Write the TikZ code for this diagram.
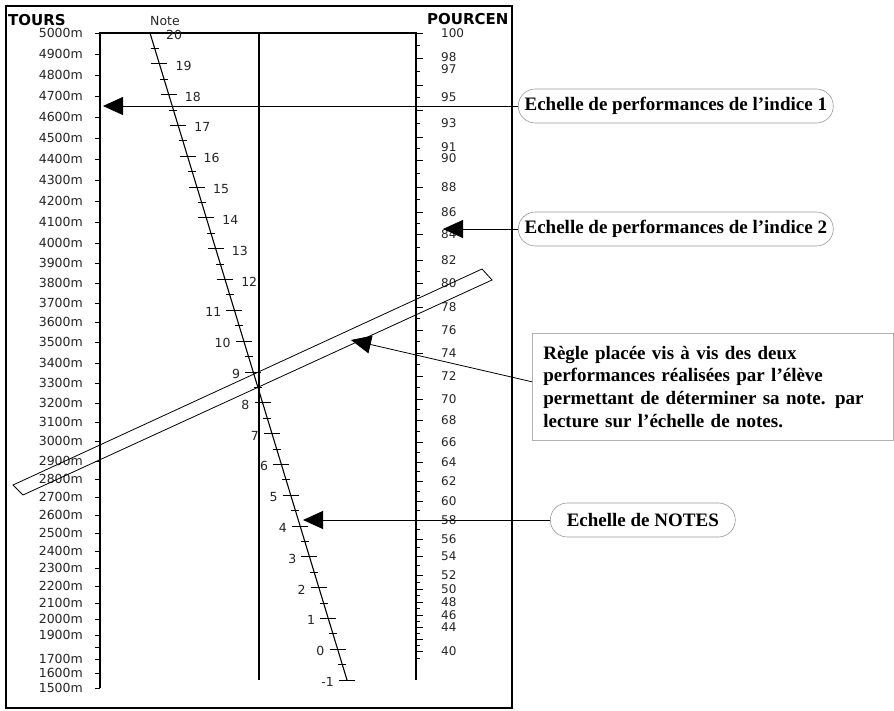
\documentclass[tikz,border=0pt]{standalone}
\usepackage{fontspec}
\usepackage{tikz}
\usetikzlibrary{arrows.meta,positioning}
\setmainfont{Liberation Serif}
\newfontfamily\scalefont{DejaVu Sans}

\begin{document}
\begin{tikzpicture}[x=1pt,y=-1pt,
		axis/.style={line width=1.6pt},
		tick/.style={line width=0.8pt},
		lbl/.style={font=\scalefont\fontsize{12.5}{12.5}\selectfont, text=black!85, inner sep=0pt},
		head/.style={font=\scalefont\bfseries\fontsize{15}{15}\selectfont, inner sep=0pt},
		pointer/.style={draw=black, line width=0.8pt, -{Triangle[length=20pt,width=18pt]}},
		pill/.style={draw=black!40, line width=0.6pt, rounded corners=17pt, minimum height=34pt, inner sep=0pt, font=\bfseries\fontsize{19}{22.7}\selectfont},
		infobox/.style={draw=black!30, line width=0.6pt, inner xsep=11pt, inner ysep=0pt, minimum height=107pt, align=left, font=\bfseries\fontsize{19}{22.7}\selectfont}]
		\useasboundingbox (0,0) rectangle (894,711);
		\fill[white] (0,0) rectangle (894,711);

		% Frame of the nomogram.
		\draw[line width=1.5pt] (6,6) rectangle (512,708);

		% Scale bodies.
		\draw[axis] (100,688) -- (100,33) -- (416,33) -- (416,680);
		\draw[axis] (259,33) -- (259,680);

		% Headers.
		\node[head, anchor=west] (tours) at (8,20) {TOURS};
		\node[lbl, anchor=center] (note) at (165,21) {Note};
		\node[head, anchor=west] (pourcent) at (427,19) {POURCEN};

		% TOURS scale: value/y position.
		\foreach \v/\y in {5000/33, 4900/54, 4800/75, 4700/96, 4600/117, 4500/138, 4400/159, 4300/180, 4200/201, 4100/222,
			4000/243, 3900/263, 3800/283, 3700/303, 3600/322, 3500/342, 3400/363, 3300/383, 3200/403, 3100/422,
			3000/441, 2900/461, 2800/479, 2700/497, 2600/515, 2500/533, 2400/551, 2300/568, 2200/586, 2100/603,
			2000/619, 1900/635, 1700/659, 1600/673, 1500/688}{
			\draw[tick] (95,\y) -- (100,\y);
			\node[lbl, anchor=east] (t\v) at (83,\y) {\v m};
		}
		\draw[tick] (95,647) -- (100,647); % 1800, no label

		% POURCENTAGE scale: ticks every 2 with a short one between.
		\foreach \ya/\yb in {33/58, 58/85, 85/110, 110/137, 137/160, 160/187, 187/212, 212/234, 234/260, 260/283,
			283/307, 307/330, 330/353, 353/376, 376/399, 399/420, 420/442, 442/462, 462/481, 481/501,
			501/520, 520/539, 539/556, 556/575, 575/589, 589/602, 602/615, 615/627, 627/639, 639/651}{
			\draw[tick] (416,\ya) -- (423,\ya);
			\draw[tick] (416,{(\ya+\yb)/2}) -- (420,{(\ya+\yb)/2});
		}
		\draw[tick] (416,651) -- (423,651);
		\draw[tick] (416,658) -- (420,658);
		\foreach \v/\y in {100/33, 98/57, 97/69, 95/97, 93/123, 91/147, 90/158, 88/187, 86/212, 84/234,
			82/260, 80/283, 78/307, 76/330, 74/353, 72/376, 70/399, 68/420, 66/442, 64/462,
			62/481, 60/501, 58/520, 56/539, 54/556, 52/575, 50/589, 48/602, 46/615, 44/627, 40/651}{
			\node[lbl, font=\scalefont\fontsize{12}{12}\selectfont, anchor=west] (p\v) at (441,\y) {\v};
		}

		% NOTE scale (slanted).
		\coordinate (ntop) at (150,33);
		\coordinate (nbot) at (347,680);
		\draw[line width=1.1pt] (ntop) -- (nbot);
		\foreach \n in {-1,...,20}{
			\pgfmathsetmacro\ny{680-(\n+1)*30.81}
			\pgfmathsetmacro\nx{347-(\n+1)*9.381}
			\draw[tick] (\nx-8,\ny) -- (\nx+8,\ny);
		}
		\foreach \n in {-1,...,19}{
			\pgfmathsetmacro\ny{680-(\n+1.5)*30.81}
			\pgfmathsetmacro\nx{347-(\n+1.5)*9.381}
			\draw[tick] (\nx-4,\ny) -- (\nx+4,\ny);
		}
		\foreach \n in {12,...,20}{
			\pgfmathsetmacro\ny{680-(\n+1)*30.81}
			\pgfmathsetmacro\nx{347-(\n+1)*9.381}
			\node[lbl, anchor=west] (n\n) at (\nx+16,\ny+2) {\n};
		}
		\foreach \n in {-1,...,11}{
			\pgfmathsetmacro\ny{680-(\n+1)*30.81}
			\pgfmathsetmacro\nx{347-(\n+1)*9.381}
			\node[lbl, anchor=east] (n\n) at (\nx-13,\ny+2) {\n};
		}

		% Ruler laid across the three scales.
		\draw[line width=0.8pt] (13,485) -- (482,269) -- (492,280) -- (23,495) -- cycle;

		% Captions and pointers.
		\node[pill, minimum width=315pt, anchor=west] (ind1) at (518,106) {Echelle de performances de l’indice 1};
		\node[pill, minimum width=315pt, anchor=west] (ind2) at (518,229) {Echelle de performances de l’indice 2};
		\node[infobox, text width=339pt, anchor=north west] (regle) at (532,333) {Règle placée vis à vis des deux\\ performances réalisées par l'élève\\ permettant de déterminer sa note. par\\ lecture sur l'échelle de notes.};
		\node[pill, minimum width=185pt, anchor=west] (notes) at (550,520) {Echelle de NOTES};

		\coordinate (tip1) at (103,106);
		\coordinate (tip2) at (443,229);
		\coordinate (tip3) at (351,340);
		\coordinate (tip4) at (303,520);
		\draw[pointer] (ind1.west) -- (tip1);
		\draw[pointer] (ind2.west) -- (tip2);
		\draw[pointer] ([yshift=5pt]regle.west) -- (tip3);
		\draw[pointer] (notes.west) -- (tip4);
	\end{tikzpicture}
\end{document}
